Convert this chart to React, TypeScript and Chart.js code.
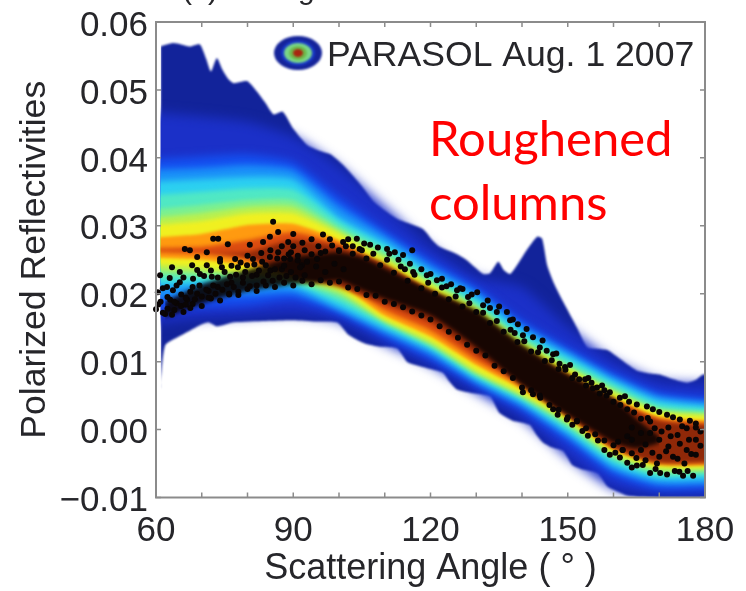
import React, { useEffect, useRef } from "react";
import { Chart, registerables } from "chart.js";

// All reflectivity arrays are in thousandths.
const levelAngles = [58, 70, 80, 90, 100, 110, 120, 130, 140, 150, 160, 170, 185];

const upperA = [46.8, 46.1, 45.3, 43.1, 38.7, 32.8, 26.9, 22.5, 21.0, 15.1, 10.2, 7.2, 6.6];
const lowerA = [15.5, 16.4, 16.7, 17.0, 16.0, 12.6, 9.5, 5.5, 1.6, -4.1, -8.7, -9.7, -9.9];
const upperB = [39.7, 40.2, 40.5, 39.4, 34.3, 29.4, 25.0, 21.0, 16.1, 12.1, 8.4, 5.5, 4.4];
const lowerB = [17.6, 18.0, 18.3, 19.1, 17.0, 13.6, 10.3, 6.4, 2.8, -1.9, -6.8, -8.9, -8.6];
const upperBC = [38.2, 38.5, 38.9, 38.2, 32.9, 28.6, 24.2, 20.3, 15.4, 11.5, 7.8, 4.9, 3.8];
const lowerBC = [19.2, 19.6, 19.8, 20.1, 17.5, 14.2, 11.0, 6.9, 3.4, -1.1, -6.0, -8.1, -7.9];
const upperC = [36.5, 36.9, 37.2, 36.8, 31.3, 27.6, 23.2, 19.5, 14.6, 10.9, 7.2, 4.3, 3.2];
const lowerC = [21.0, 21.3, 21.4, 21.1, 18.0, 14.8, 11.7, 7.4, 4.0, -0.4, -5.3, -7.4, -7.2];
const upperCD = [34.4, 35.0, 35.5, 35.3, 30.6, 26.9, 22.6, 18.9, 14.0, 10.3, 6.7, 3.7, 2.8];
const lowerCD = [21.9, 22.0, 21.9, 21.5, 18.8, 15.3, 12.1, 7.8, 4.4, 0.1, -4.7, -6.9, -6.6];
const upperD = [32.3, 33.1, 33.8, 33.8, 29.8, 26.1, 22.0, 18.3, 13.4, 9.6, 6.1, 3.1, 2.4];
const lowerD = [22.7, 22.6, 22.3, 21.9, 19.5, 15.8, 12.4, 8.1, 4.7, 0.6, -4.1, -6.4, -6.1];
const upperDE = [31.1, 31.9, 32.8, 32.8, 29.3, 25.5, 21.6, 18.0, 13.0, 9.2, 5.7, 2.8, 2.1];
const lowerDE = [23.5, 23.2, 22.8, 22.2, 20.1, 16.0, 12.7, 8.4, 5.0, 1.0, -3.8, -6.0, -5.8];
const upperE = [30.0, 30.7, 31.8, 31.8, 28.8, 25.0, 21.3, 17.6, 12.7, 8.9, 5.3, 2.5, 1.8];
const lowerE = [24.4, 23.9, 23.2, 22.5, 20.7, 16.2, 13.1, 8.7, 5.3, 1.3, -3.4, -5.6, -5.5];
const upperF = [28.2, 28.8, 30.1, 30.3, 27.9, 24.2, 20.7, 17.0, 12.1, 8.3, 4.7, 1.9, 1.2];
const lowerF = [25.3, 25.0, 24.1, 22.9, 21.3, 16.8, 13.7, 9.5, 5.9, 1.8, -3.0, -5.2, -5.2];
const upperG = [26.7, 26.9, 27.9, 29.1, 27.3, 23.6, 20.2, 16.5, 11.7, 7.8, 4.3, 1.5, 0.7];
const lowerG = [26.1, 25.8, 25.0, 23.5, 22.0, 17.6, 14.6, 10.2, 6.5, 2.1, -2.5, -4.7, -4.9];
const upperH = [26.4, 26.1, 26.1, 27.9, 26.9, 24.4, 20.2, 17.0, 11.7, 7.8, 4.3, 1.3, 0.4];
const lowerH = [26.4, 26.1, 25.4, 22.5, 21.0, 18.5, 15.8, 11.1, 6.9, 2.1, -2.7, -4.9, -4.6];

const outerUpperAngles = [61, 63.7, 65.5, 67.4, 69.6, 71, 72, 73.3, 74.5, 75.7, 77, 79.9, 82, 84, 85.7, 87.7, 90, 93, 95.5, 98.2, 100.5, 102.6, 105, 107.6, 110, 112.7, 115.5, 118.4, 120.5, 122, 125.8, 128, 131.5, 133, 134.8, 136, 137.4, 139, 141, 143.3, 144.4, 145.5, 147, 149, 152, 154.2, 156, 158.6, 161, 165, 167.5, 170, 173, 176, 178, 179.6, 185];
const outerUpper = [56.4, 56.9, 56.7, 56.4, 56.7, 54.5, 52.7, 54.7, 53, 51.7, 51, 51.3, 49.8, 48, 46.4, 46.8, 44.3, 41.9, 41.1, 40.5, 39.2, 37.7, 35.8, 33.5, 32.2, 31, 30.3, 29.5, 27.8, 26.9, 25.8, 24.9, 22.9, 23, 24.7, 23.5, 22.9, 24.3, 26.4, 28.4, 28.1, 24.2, 21.5, 18.8, 15, 12.1, 11.9, 11.7, 10.6, 8.7, 8.3, 8.1, 7.4, 6.9, 7.3, 8.1, 8.1];
const outerLowerAngles = [60.9, 62, 65, 67.5, 70, 71.5, 73.3, 77, 84, 90, 95, 99.6, 102, 104, 106, 109, 112.7, 115, 119, 122.7, 124, 125.8, 129, 133, 134, 135, 136.5, 138, 141.7, 143, 144.6, 146.5, 149, 150, 151, 153, 156.6, 158.6, 160.5, 163, 166, 170, 185];
const outerLower = [6, 12.4, 13.7, 14.6, 15.5, 15.8, 15.2, 15.8, 16, 16.1, 15.9, 15.8, 14, 13.2, 12.6, 12.2, 12, 9.9, 9.1, 8.4, 7.2, 5.9, 5.4, 5, 3.8, 2.5, 1.8, 1.3, 0.7, -0.6, -1.9, -2.6, -3.1, -4.1, -5.2, -5.8, -6.4, -8.3, -9, -9.7, -9.9, -10, -10];

const coreAngles = [62, 70, 80, 90, 95, 100, 105, 110, 120, 130, 140, 150, 160, 165, 170];
const coreUpper = [18.8, 21.4, 23.5, 25.4, 25.8, 26.1, 25.4, 23.8, 20.6, 17.6, 12.6, 8.2, 4.6, 1.6, -1.0];
const coreLower = [16.5, 18.5, 20.4, 21.4, 21.6, 21.9, 20.5, 19.2, 16.8, 12.1, 6.5, 2.1, -1.9, -2.8, -2.0];

const dotsFringe: [number, number][] = [
  [85.6, 30.6], [86.7, 29.1], [84.9, 28.4], [88.9, 27.6], [96.5, 28.7], [100.9, 27.6], [103.9, 28.1], [106.8, 27.2], [110.5, 26.6], [112.2, 26.1], [114, 25.7], [116, 26.4], [114.4, 23.6], [116.2, 23.2], [119.2, 22.7], [121.4, 22], [125.8, 20.5], [130.2, 20.2], [128.2, 19.5], [131.5, 18.3],
  [134.5, 17.3], [136.7, 17.3], [137.4, 16.1], [139.1, 15.5], [140.2, 13.9], [142.4, 13.6], [143.9, 12.1], [146.8, 11.1], [149.4, 9.2], [151.6, 8.1], [153.8, 7.4], [156.4, 6.2], [161.4, 4.7], [165.1, 3.7], [168.6, 3], [171.7, 2.2], [174.5, 1.5], [176.7, 1.3], [167.3, 3.4], [159.2, 5.5],
  [72.5, 28.1], [73.6, 28.1], [75.7, 27.3], [66.3, 26.6], [67.4, 26.4], [69, 25.4], [71.1, 26.1], [74, 25.1], [77.3, 25.1], [80.5, 27.2], [83.4, 27.6], [90, 28.8],
  [60, 17.7], [60.9, 22.7], [60.4, 20.2], [63.5, 23.9], [65.2, 23.2], [62.4, 21], [63.7, 20.5], [65.2, 21.7], [63.1, 19.1], [66.8, 19.1], [67.9, 24.2], [68.1, 22.2], [69.6, 22.9], [71.1, 24.2], [72.2, 22.5], [74.4, 23.9], [76.2, 22.5], [77.9, 23.9], [79.9, 24.2], [81.2, 25.1], [83.2, 24.7], [84.9, 25.4], [86.7, 26.1], [89.3, 25.1], [91.9, 24.2], [95.2, 25.1],
  [140.2, 5.5], [142.4, 5.2], [143.9, 5], [146.8, 3], [149.8, 1.5], [152, 1.2], [154.4, -0.9], [156.6, -1.6], [159.2, -3.7], [161.4, -4.1], [163, -4.9], [165.1, -5.3], [168, -6.4], [171.7, -6.6], [175.2, -6.8], [177.4, -6.8], [166.4, -5.2], [170.2, -6.4], [173.4, -6.1],
  [123.5, 21.1], [127, 20.7], [133, 17.9], [138.4, 14.2], [145.4, 11.6], [148.2, 9.7], [155.2, 6.9], [158, 5.8], [163.4, 4.1], [170, 2.6], [173, 1.8], [178, 0.9], [147.8, 2.2], [151, 0.7], [153.2, -0.2], [158, -3], [160.4, -3.4], [164, -5.6], [169.2, -5.8], [174.4, -6.2], [176.2, -6.1],
];
const dotsCoreUpper: [number, number][] = [
  [88, 25.2], [89.5, 26.1], [91, 24.9], [92.5, 26.4], [94, 25.8], [95.5, 27], [97, 26.2], [98.5, 27.1], [100, 26.3], [101.5, 27], [103, 25.9], [104.5, 26.6], [106, 25.2], [107.5, 25.9], [109, 24.2], [110.5, 25], [112, 23.1], [113.5, 24], [115, 21.9], [116.5, 22.8], [118, 20.8], [119.5, 21.6], [121, 20], [122.5, 20.9], [124, 19.2], [125.5, 19.6], [127, 18.1], [128.5, 18.6], [130, 17.3], [131.5, 17.2], [133, 15.7], [134.5, 16], [136, 14.4], [137.5, 14.7], [139, 12.9], [140.5, 13], [142, 11.5], [143.5, 11.4], [145, 10.1], [146.5, 10.2], [148, 8.9], [149.5, 8.8], [151, 7.6], [152.5, 7.4], [154, 6.5], [155.5, 6.1], [157, 5.3], [158.5, 5], [160, 4.1], [161.5, 3.6], [163, 3], [164.5, 2.5], [166, 1.6], [167.5, 1.7],
  [102, 28], [105.5, 27.4], [108.5, 26.8], [111, 25.9], [113, 25], [115.5, 24.4], [118, 23.6], [120, 22.9], [122.5, 22.2], [124.5, 21.4], [126.5, 20.8], [129, 19.9], [132.5, 19], [135, 18.1], [138, 16.2], [141, 14.8], [144.5, 13.1], [147.5, 11.2], [150.5, 9.5], [154.5, 7.6], [157.5, 6.5], [162.5, 4.9],
];
const dotsCoreLower: [number, number][] = [
  [62, 17], [64, 17.6], [66, 17.3], [68, 18.5], [70, 18.2], [72, 19.3], [74, 19], [76, 20], [78, 19.8], [80, 20.7], [82, 20.4], [84, 21.2], [86, 21], [88, 21.6], [90, 21.2], [92, 21.9], [94, 21.4], [96, 22], [98, 21.6], [100, 21.8], [102, 20.9], [104, 20.7], [106, 19.8], [108, 19.7], [110, 18.8], [112, 18.5], [114, 18], [116, 17.4], [118, 16.8], [120, 16.2], [122, 15.2], [124, 14.4], [126, 13.5], [128, 12.5], [130, 11.6], [132, 10.9], [134, 9.4], [136, 8.6], [138, 7.6], [140, 6.2], [142, 5.8], [144, 4.7], [146, 3.6], [148, 2.9], [150, 1.8], [152, 1.3], [154, 0.2], [156, -0.7], [158, -1.6], [160, -2.3], [162, -3], [164, -3.5],
  [62.5, 17.8], [64.5, 18.6], [66.5, 19.4], [69, 20], [71.5, 20.4], [73.5, 21], [76.5, 21.6], [79, 22.4], [82, 22.8], [85, 23.4], [87.5, 23.6], [61.5, 17.2], [63.5, 16.9], [65.5, 18.2], [67.5, 17.9], [60.5, 18.4],
];
const dotsLeft: [number, number][] = [
  [61, 18.8], [61.5, 20.8], [62.5, 19.5], [63, 22.3], [64, 18.8], [64.5, 21.2], [65.5, 19.9], [66, 22.4], [66.5, 18.4], [67.5, 20.3], [68, 21], [68.5, 19.2], [69, 23.5], [69.5, 21.2], [70, 19.6], [70.5, 22.6], [71, 20.6], [71.5, 19.4], [72, 23.4], [72.5, 21.2], [73, 20], [73.5, 22.4], [74, 24.7], [74.5, 20.6], [75, 23.2], [75.5, 21.4], [76, 19.9], [76.5, 24.1], [77, 21], [77.5, 22.8], [78, 20.3], [78.5, 24.6], [79, 21.6], [79.5, 23.2], [80, 25.6], [80.5, 21.1], [81, 22.6], [81.5, 24.3], [82, 21.2], [82.5, 23.4], [83, 26], [83.5, 21.8], [84, 24.2], [84.5, 22.7], [85, 26.4], [85.5, 21.9], [86, 23.6], [86.5, 25.2], [87, 22.4], [87.5, 27], [88, 24.1], [88.5, 22.6], [89, 25.8], [89.5, 23.2], [90, 27], [90.5, 22.4], [91, 25.6], [91.5, 23.9], [92, 27.5], [92.5, 22.7], [93, 24.7], [94, 28], [95, 24], [96, 26], [97, 23.2], [98, 28], [99, 24.4], [100, 26.4], [101, 23.6], [103, 27], [105, 26.4],
];
const dotsRight: [number, number][] = [
  [164, 0.3], [166, -0.5], [167, -2.2], [168.5, -3.4], [169, 0.2], [170.5, -0.3], [171.5, -3.2], [172.5, -1], [173, -4], [174.5, -2.1], [175, 0.5], [176.5, -1.5], [177, -3.6], [178, 0.3], [179, -2.4], [175.5, -5], [169.5, -5], [163, -1], [161, -1.8], [167, -4.5],
  [168, -0.5], [170, -1.5], [172, -2.5], [174, -0.8], [176, -3], [178, -1.5], [166, -3], [170, -4], [174, -4.3], [178, -3.7], [172, 0.3], [176, 0.2], [168, 1.2], [164, -1.5], [162, -3], [165, -4.2], [179, -0.3],
];
const allDots = [...dotsFringe, ...dotsCoreUpper, ...dotsCoreLower, ...dotsLeft, ...dotsRight];

const xTickValues = [60, 70, 80, 90, 100, 110, 120, 130, 140, 150, 160, 170, 180];
const xLabelValues = [60, 90, 120, 150, 180];
const yTickValues = [-0.01, 0, 0.01, 0.02, 0.03, 0.04, 0.05, 0.06];

const xTitle = "Scattering Angle ( ° )";
const yTitle = "Polarized Reflectivities";
const legendLabel = "PARASOL Aug. 1 2007";
const noteLines = ["Roughened", "columns"];

const TEXT = "#26262a";
const HELV = '"Liberation Sans", Arial, sans-serif';

const points = (xs: number[], ys: number[]) => xs.map((x, i) => ({ x, y: ys[i] / 1000 }));

function band(xu: number[], yu: number[], xl: number[], yl: number[], color: string, blur: number, tension: number) {
  const base = { type: "line", borderWidth: 0, pointRadius: 0, tension, blur };
  return [
    { ...base, data: points(xu, yu), fill: "+1", backgroundColor: color },
    { ...base, data: points(xl, yl), fill: false },
  ];
}

// Soft-edged density bands, cut at the left edge of the swath.
const densityBlur = {
  id: "densityBlur",
  beforeDatasetDraw(chart: any, args: any) {
    const blur = chart.data.datasets[args.index].blur;
    if (blur === undefined) return;
    const { ctx, chartArea, scales } = chart;
    ctx.save();
    const left = scales.x.getPixelForValue(61);
    ctx.beginPath();
    ctx.rect(left, chartArea.top, chartArea.right - left, chartArea.bottom - chartArea.top);
    ctx.clip();
    ctx.filter = `blur(${blur}px)`;
  },
  afterDatasetDraw(chart: any, args: any) {
    if (chart.data.datasets[args.index].blur !== undefined) chart.ctx.restore();
  },
};

const frameAndLegend = {
  id: "frameAndLegend",
  afterDraw(chart: any) {
    const { ctx, chartArea: a, scales } = chart;
    ctx.save();
    ctx.strokeStyle = "#8b8b8b";
    ctx.lineWidth = 2;
    ctx.strokeRect(a.left, a.top, a.right - a.left, a.bottom - a.top);
    ctx.lineWidth = 1.5;
    ctx.beginPath();
    xTickValues.forEach((v) => {
      const x = scales.x.getPixelForValue(v);
      ctx.moveTo(x, a.top);
      ctx.lineTo(x, a.top + 5);
      ctx.moveTo(x, a.bottom);
      ctx.lineTo(x, a.bottom - 5);
    });
    yTickValues.forEach((v) => {
      const y = scales.y.getPixelForValue(v);
      ctx.moveTo(a.left, y);
      ctx.lineTo(a.left + 5, y);
      ctx.moveTo(a.right, y);
      ctx.lineTo(a.right - 5, y);
    });
    ctx.stroke();

    const rings: [number, number, string][] = [
      [24, 17, "#15249a"],
      [17, 12.5, "#1a3ac8"],
      [14, 10, "#7ad888"],
      [9, 7, "#6eb84a"],
      [5, 4, "#a8260f"],
    ];
    ctx.filter = "blur(0.8px)";
    rings.forEach(([rx, ry, c]) => {
      ctx.beginPath();
      ctx.ellipse(298, 53, rx, ry, 0, 0, Math.PI * 2);
      ctx.fillStyle = c;
      ctx.fill();
    });
    ctx.filter = "none";
    ctx.fillStyle = TEXT;
    ctx.font = `35.6px ${HELV}`;
    ctx.textBaseline = "alphabetic";
    ctx.textAlign = "left";
    ctx.fillText(legendLabel, 327, 66);
    ctx.font = `30px ${HELV}`;
    ctx.fillText("(", 182, -1);
    ctx.fillText(")", 208, -1);
    ctx.fillText("g", 298, -1);
    ctx.restore();
  },
};

Chart.register(densityBlur, ...registerables);

export default function App() {
  const ref = useRef<HTMLCanvasElement>(null);
  useEffect(() => {
    document.body.style.background = "#fff";
    const chart = new Chart(ref.current as HTMLCanvasElement, {
      type: "line",
      data: {
        datasets: [
          {
            type: "scatter",
            data: allDots.map(([x, y]) => ({ x, y: y / 1000 })),
            showLine: false,
            pointRadius: 3,
            pointBackgroundColor: "#0a0505",
            pointBorderWidth: 0,
            clip: false,
          },
          ...band(coreAngles, coreUpper, coreAngles, coreLower, "rgba(10,2,2,0.9)", 2, 0.2),
          ...band(levelAngles, upperH, levelAngles, lowerH, "#8f2808", 2, 0.2),
          ...band(levelAngles, upperG, levelAngles, lowerG, "#dc4c10", 2, 0.2),
          ...band(levelAngles, upperF, levelAngles, lowerF, "#ff9a10", 1.5, 0.2),
          ...band(levelAngles, upperE, levelAngles, lowerE, "#f0f020", 2, 0.2),
          ...band(levelAngles, upperDE, levelAngles, lowerDE, "#b8f050", 2, 0.2),
          ...band(levelAngles, upperD, levelAngles, lowerD, "#7cf090", 2, 0.2),
          ...band(levelAngles, upperCD, levelAngles, lowerCD, "#50e8c4", 2.5, 0.2),
          ...band(levelAngles, upperC, levelAngles, lowerC, "#2cd0f0", 3, 0.2),
          ...band(levelAngles, upperBC, levelAngles, lowerBC, "#1a90f8", 3, 0.2),
          ...band(levelAngles, upperB, levelAngles, lowerB, "#1450f0", 4, 0.2),
          ...band(levelAngles, upperA, levelAngles, lowerA, "#1b30c8", 6, 0.2),
          ...band(outerUpperAngles, outerUpper, outerLowerAngles, outerLower, "#12239a", 1, 0.2),
        ] as any,
      },
      options: {
        animation: false,
        responsive: false,
        events: [],
        layout: { autoPadding: false, padding: { left: 0, top: 22, right: 41, bottom: 0 } },
        plugins: { legend: { display: false }, tooltip: { enabled: false } },
        scales: {
          x: {
            type: "linear",
            min: 60,
            max: 180,
            grid: { display: false, drawTicks: false },
            border: { display: false },
            afterFit: (s: any) => {
              s.height = 93.5;
              s.paddingLeft = 0;
              s.paddingRight = 0;
            },
            afterBuildTicks: (s: any) => {
              s.ticks = xLabelValues.map((value) => ({ value }));
            },
            ticks: {
              autoSkip: false,
              maxRotation: 0,
              padding: 13,
              color: TEXT,
              font: { family: HELV, size: 35 },
              callback: (v: any) => String(v),
            },
            title: {
              display: true,
              text: xTitle,
              color: TEXT,
              font: { family: HELV, size: 36 },
              padding: { top: 0, bottom: 0 },
            },
          },
          y: {
            type: "linear",
            min: -0.01,
            max: 0.06,
            grid: { display: false, drawTicks: false },
            border: { display: false },
            afterFit: (s: any) => {
              s.width = 156;
              s.paddingTop = 0;
              s.paddingBottom = 0;
            },
            afterBuildTicks: (s: any) => {
              s.ticks = yTickValues.map((value) => ({ value }));
            },
            ticks: {
              autoSkip: false,
              padding: 8,
              labelOffset: 4,
              color: TEXT,
              font: { family: HELV, size: 35 },
              callback: (v: any) => (Number(v) < 0 ? "−" + Math.abs(Number(v)).toFixed(2) : Number(v).toFixed(2)),
            },
            title: {
              display: true,
              text: yTitle,
              color: TEXT,
              font: { family: HELV, size: 35.6 },
              padding: { top: 14, bottom: 0 },
            },
          },
        },
      } as any,
      plugins: [frameAndLegend],
    });
    return () => chart.destroy();
  }, []);

  const note = { position: "absolute", left: 429, color: "#ff0000", font: "49px Lato, sans-serif", lineHeight: "56px", whiteSpace: "nowrap" } as React.CSSProperties;
  return (
    <div style={{ position: "absolute", left: 0, top: 0, width: 746, height: 591, overflow: "hidden", background: "#fff" }}>
      <canvas ref={ref} width={746} height={591} style={{ display: "block", filter: "blur(0.6px)" }} />
      <div style={{ ...note, top: 109 }}>{noteLines[0]}</div>
      <div style={{ ...note, top: 173 }}>{noteLines[1]}</div>
    </div>
  );
}
